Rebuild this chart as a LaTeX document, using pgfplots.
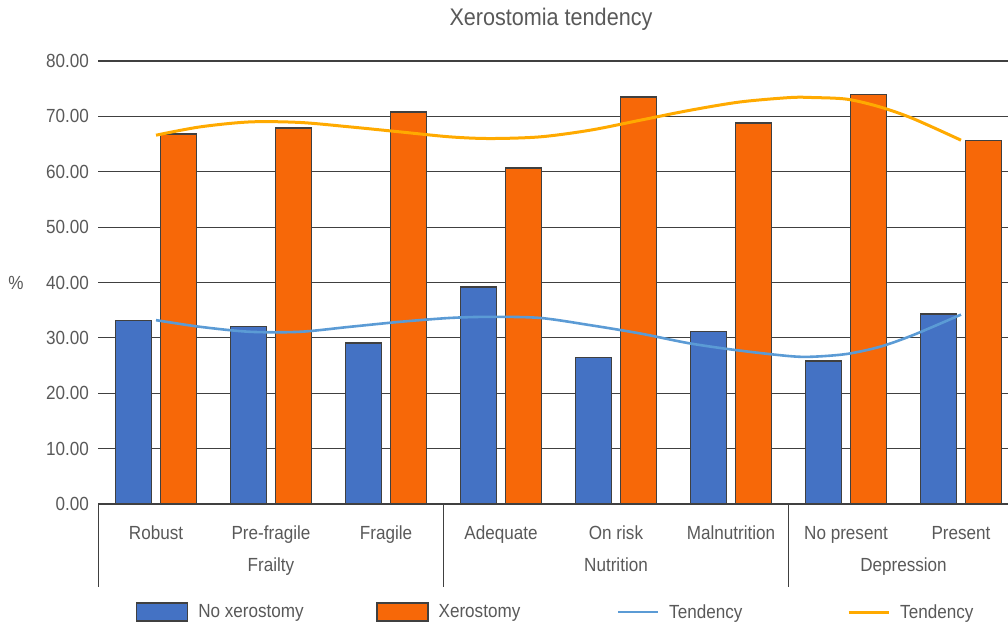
\documentclass[border=0pt]{standalone}
\usepackage{pgfplots}
\pgfplotsset{compat=1.18}
\usepackage{fontspec}
\setmainfont{Liberation Sans}[FakeStretch=0.9]
\definecolor{txt}{RGB}{89,89,89}
\definecolor{barblue}{RGB}{68,114,196}
\definecolor{barorange}{RGB}{247,104,8}
\definecolor{lineblue}{RGB}{91,155,213}
\definecolor{lineorange}{RGB}{255,170,0}
\definecolor{edge}{RGB}{64,64,64}
\definecolor{gridc}{RGB}{64,64,64}
\begin{document}
\begin{tikzpicture}[font=\fontsize{19}{23}\selectfont]
\begin{axis}[
  name=ax,
  scale only axis, width=920pt, height=443pt,
  xmin=-0.5, xmax=7.5, ymin=0, ymax=80, enlargelimits=false,
  clip=false,
  axis x line*=bottom, axis y line*=left,
  y axis line style={draw=none},
  x axis line style={draw=gridc, line width=1.2pt},
  xtick={0,...,7},
  xticklabels={Robust,Pre-fragile,Fragile,Adequate,On risk,Malnutrition,No present,Present},
  xtick style={draw=none}, ytick style={draw=none},
  ytick={0,10,...,80},
  ymajorgrids, major grid style={draw=gridc, line width=1.2pt},
  /pgf/number format/fixed, /pgf/number format/fixed zerofill,
  /pgf/number format/precision=2, /pgf/number format/assume math mode=true,
  yticklabel style={anchor=east, inner sep=0pt, xshift=-9.5pt, text=txt},
  xticklabel style={anchor=base, inner sep=0pt, yshift=-35pt, text=txt},
  title={Xerostomia tendency},
  title style={at={(0.4918,1)}, anchor=base, yshift=29.3pt, inner sep=0pt, font=\fontsize{24}{28}\selectfont, text=txt},
  ylabel={\%},
  every axis y label/.style={at={(rel axis cs:0,0.5)}, anchor=center, xshift=-82.5pt, text=txt},
  legend columns=4,
  legend style={at={(0.04076,-0.2441)}, anchor=west, draw=none, inner sep=0pt, outer sep=0pt,
    nodes={inner sep=0pt, text=txt},
    /tikz/every odd column/.append style={column sep=10pt}},
]
\addplot[ybar, bar width=36pt, bar shift=-22.5pt, fill=barblue, draw=edge, line width=1.3pt,
  legend image code/.code={\draw[fill=barblue, draw=edge, line width=1.3pt] (0pt,-9pt) rectangle (51pt,9pt);}]
  coordinates {(0,33.2) (1,32.1) (2,29.1) (3,39.2) (4,26.5) (5,31.2) (6,25.8) (7,34.3)};
\addlegendentry{\makebox[178pt][l]{No xerostomy}}
\addplot[ybar, bar width=36pt, bar shift=22.5pt, fill=barorange, draw=edge, line width=1.3pt,
  legend image code/.code={\draw[fill=barorange, draw=edge, line width=1.3pt] (0pt,-9pt) rectangle (51pt,9pt);}]
  coordinates {(0,66.8) (1,67.9) (2,70.8) (3,60.7) (4,73.5) (5,68.8) (6,74.0) (7,65.7)};
\addlegendentry{\makebox[178pt][l]{Xerostomy}}
\addplot[smooth, no marks, color=lineblue, line width=2.6pt,
  legend image code/.code={\draw[color=lineblue, line width=2.6pt] (0pt,0pt) -- (40pt,0pt);}]
  coordinates {(0,33.2) (0.383,32.0) (0.817,31.1) (1.252,31.1) (1.687,32.0) (2.122,32.9) (2.557,33.6) (2.904,33.8) (3.339,33.6) (3.774,32.3) (4.209,30.8) (4.643,29.0) (5.078,27.7) (5.513,26.7) (5.713,26.6) (6.009,27.1) (6.296,28.4) (6.583,30.5) (7,34.2)};
\addlegendentry{\makebox[178pt][l]{Tendency}}
\addplot[smooth, no marks, color=lineorange, line width=3pt,
  legend image code/.code={\draw[color=lineorange, line width=3pt] (0pt,0pt) -- (40pt,0pt);}]
  coordinates {(0,66.6) (0.383,68.1) (0.817,69.0) (1.252,68.9) (1.687,68.1) (2.122,67.2) (2.557,66.3) (2.904,66.0) (3.339,66.3) (3.774,67.5) (4.209,69.3) (4.643,71.1) (5.078,72.6) (5.513,73.4) (5.713,73.4) (6.009,73.1) (6.296,71.7) (6.583,69.6) (7,65.7)};
\addlegendentry{Tendency}
\draw[gridc, line width=1pt] (axis cs:-0.5,0) -- ++(0pt,-83pt);
\draw[gridc, line width=1pt] (axis cs:2.5,0) -- ++(0pt,-83pt);
\draw[gridc, line width=1pt] (axis cs:5.5,0) -- ++(0pt,-83pt);
\draw[gridc, line width=1pt] (axis cs:7.5,0) -- ++(0pt,-83pt);
\node[anchor=base, inner sep=0pt, text=txt, yshift=-67pt] at (axis cs:1,0) {Frailty};
\node[anchor=base, inner sep=0pt, text=txt, yshift=-67pt] at (axis cs:4,0) {Nutrition};
\node[anchor=base, inner sep=0pt, text=txt, yshift=-67pt] at (axis cs:6.5,0) {Depression};
\end{axis}
\pgfresetboundingbox
\path[use as bounding box] ([xshift=-98.5pt,yshift=-119pt]ax.south west) rectangle ([xshift=909.5pt,yshift=504pt]ax.south west);
\end{tikzpicture}
\end{document}
